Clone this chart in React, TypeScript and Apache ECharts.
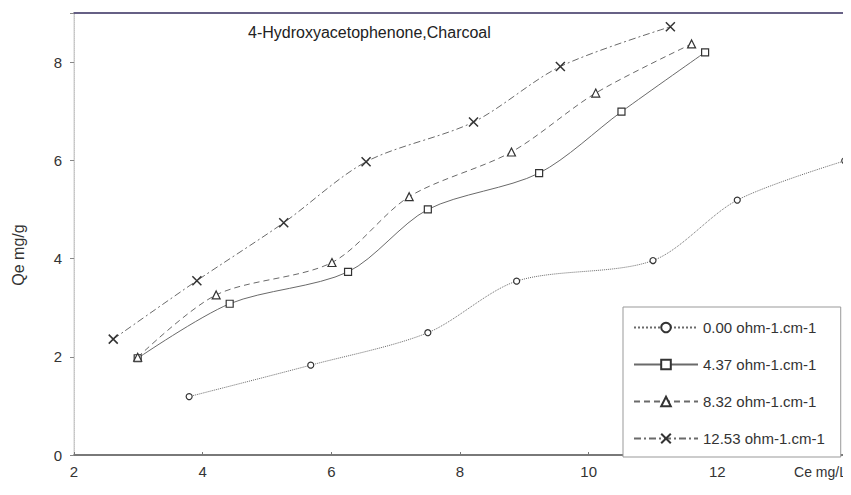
import React, { useEffect, useRef } from "react";
import * as echarts from "echarts";

const titleText = "4-Hydroxyacetophenone,Charcoal";
const xName = "Ce mg/L";
const yName = "Qe mg/g";
const seriesNames = ["0.00 ohm-1.cm-1", "4.37 ohm-1.cm-1", "8.32 ohm-1.cm-1", "12.53 ohm-1.cm-1"];

const ce000 = [3.79, 5.68, 7.5, 8.88, 11.0, 12.31, 13.98];
const qe000 = [1.19, 1.83, 2.49, 3.54, 3.96, 5.19, 5.99];
const ce437 = [2.99, 4.42, 6.26, 7.5, 9.23, 10.51, 11.81];
const qe437 = [1.97, 3.08, 3.73, 5.0, 5.74, 6.99, 8.2];
const ce832 = [2.99, 4.21, 6.01, 7.21, 8.8, 10.11, 11.6];
const qe832 = [1.99, 3.26, 3.92, 5.26, 6.17, 7.37, 8.37];
const ce1253 = [2.61, 3.91, 5.26, 6.54, 8.21, 9.56, 11.27];
const qe1253 = [2.36, 3.55, 4.73, 5.97, 6.78, 7.91, 8.72];

const FONT = "'Liberation Sans', Arial, sans-serif";

function pairs(xs: number[], ys: number[]) {
  return xs.map((x, i) => [x, ys[i]]);
}

export default function App() {
  const ref = useRef<HTMLDivElement>(null);
  useEffect(() => {
    if (!ref.current) return;
    const chart = echarts.init(ref.current, undefined, { renderer: "svg" });
    const lineColor = "#6a6a6a";
    const markerItem = { color: "#fff", borderColor: "#333", borderWidth: 1.2 };
    const base = {
      type: "line" as const,
      smooth: 0.3,
      clip: false,
      symbolSize: 7,
      showSymbol: true,
    };
    chart.setOption({
      animation: false,
      backgroundColor: "#fff",
      title: {
        text: titleText,
        left: 243,
        top: 19,
        textStyle: { fontFamily: FONT, fontSize: 16, fontWeight: "normal", color: "#222" },
      },
      grid: {
        left: 74,
        right: 5,
        top: 13,
        bottom: 40,
        show: true,
        borderColor: "#cfcfcf",
        borderWidth: 1,
        backgroundColor: "transparent",
      },
      legend: {
        orient: "vertical",
        left: 623,
        top: 307,
        itemWidth: 64,
        itemHeight: 12,
        itemGap: 22,
        padding: [13, 16, 11, 10],
        backgroundColor: "#fff",
        borderColor: "#999",
        borderWidth: 1,
        textStyle: { fontFamily: FONT, fontSize: 15, color: "#333" },
        data: seriesNames,
      },
      xAxis: [
        {
          type: "value",
          min: 2,
          max: 14,
          interval: 2,
          axisLine: { show: true, lineStyle: { color: "#555", width: 1.5 } },
          axisTick: { show: true, inside: true, length: 3, lineStyle: { color: "#777" } },
          splitLine: { show: false },
          axisLabel: {
            fontFamily: FONT,
            fontSize: 15,
            color: "#333",
            margin: 9,
            formatter: (v: number) => (v === 14 ? "" : String(v)),
          },
        },
        {
          type: "value",
          position: "top",
          min: 2,
          max: 14,
          axisLine: { show: true, lineStyle: { color: "#3d3566", width: 1.5 } },
          axisTick: { show: false },
          axisLabel: { show: false },
          splitLine: { show: false },
        },
      ],
      yAxis: {
        type: "value",
        min: 0,
        max: 9,
        interval: 2,
        axisLine: { show: true, lineStyle: { color: "#c4c4c4", type: "dotted" } },
        axisTick: { show: true, length: 4, lineStyle: { color: "#888" } },
        splitLine: { show: false },
        axisLabel: {
          fontFamily: FONT,
          fontSize: 15,
          color: "#333",
          margin: 12,
          formatter: (v: number) => (v === 9 ? "" : String(v)),
        },
      },
      graphic: [
        {
          type: "text",
          x: 18,
          y: 255,
          rotation: Math.PI / 2,
          style: {
            text: yName,
            font: `16px ${FONT}`,
            fill: "#333",
            textAlign: "center",
            textVerticalAlign: "middle",
          },
        },
        {
          type: "text",
          x: 847,
          y: 472,
          style: {
            text: xName,
            font: `14px ${FONT}`,
            fill: "#333",
            textAlign: "right",
            textVerticalAlign: "middle",
          },
        },
      ],
      series: [
        {
          ...base,
          name: seriesNames[0],
          data: pairs(ce000, qe000),
          symbol: "circle",
          symbolSize: 6,
          lineStyle: { color: lineColor, width: 1, type: "dotted" },
          itemStyle: markerItem,
        },
        {
          ...base,
          name: seriesNames[1],
          data: pairs(ce437, qe437),
          symbol: "rect",
          lineStyle: { color: lineColor, width: 1, type: "solid" },
          itemStyle: markerItem,
        },
        {
          ...base,
          name: seriesNames[2],
          data: pairs(ce832, qe832),
          symbol: "triangle",
          symbolSize: 8,
          lineStyle: { color: lineColor, width: 1, type: [6, 4] },
          itemStyle: markerItem,
        },
        {
          ...base,
          name: seriesNames[3],
          data: pairs(ce1253, qe1253),
          symbol: "path://M0 0L10 10M10 0L0 10",
          symbolSize: 9,
          lineStyle: { color: lineColor, width: 1, type: [7, 3, 2, 3] },
          itemStyle: { color: "#333", borderColor: "#333", borderWidth: 1.5 },
        },
      ],
    });
    return () => chart.dispose();
  }, []);
  return <div ref={ref} style={{ width: 851, height: 495, margin: -8 }} />;
}
